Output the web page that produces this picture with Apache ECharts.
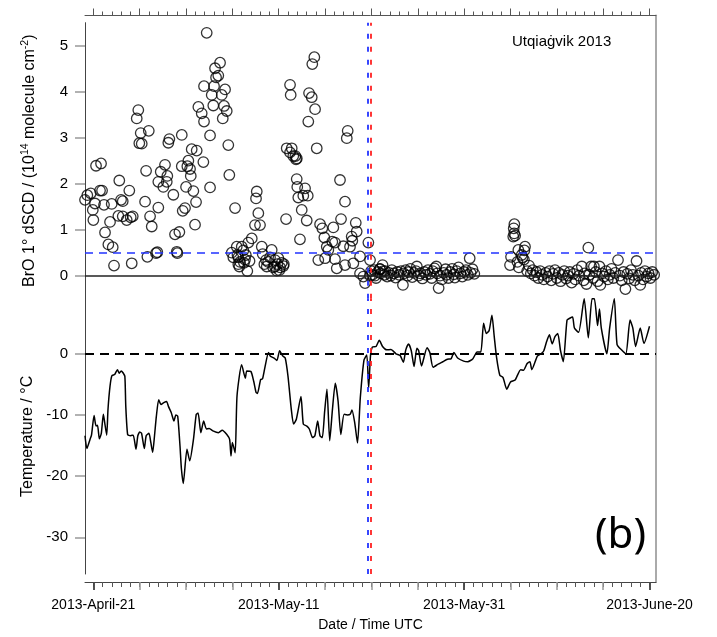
<!DOCTYPE html>
<html>
<head>
<meta charset="utf-8">
<script src="https://cdn.jsdelivr.net/npm/echarts@6/dist/echarts.min.js"></script>
<style>html,body{margin:0;padding:0;background:#fff;}#c{width:717px;height:637px;}</style>
</head>
<body>
<div id="c"></div>
<script>
// ---- data (x = days since 2013-04-21 00:00 UTC) ----
const xMin = -0.9, xMax = 60.7;
const xLabelDays = [0, 20, 40, 60];
const xLabels = ['2013-April-21', '2013-May-11', '2013-May-31', '2013-June-20'];
const brTicks = [0, 1, 2, 3, 4, 5];
const tTicks = [-30, -20, -10, 0];
const eventDays = [29.6, 29.9]; // blue, red

const brDay = [
-0.90,-0.65,-0.28,-0.06,0.00,0.18,0.29,0.83,0.72,0.94,1.15,1.26,1.62,2.09,2.23,1.80,1.98,2.80,2.99,3.17,2.70,3.17,3.60,3.88,4.03,4.25,4.14,
4.85,4.68,5.11,4.96,5.22,5.98,5.69,5.58,5.83,6.12,6.30,6.76,6.90,7.01,7.01,7.27,7.73,7.55,7.92,7.98,8.09,8.20,8.63,8.81,9.28,9.00,9.06,
9.54,9.54,9.64,9.89,10.0,10.14,10.25,10.43,10.51,10.61,10.79,10.97,11.08,11.15,11.33,11.69,11.94,11.87,11.94,12.23,12.59,12.59,12.77,
12.94,13.02,13.13,13.24,13.48,13.67,13.85,13.96,14.10,14.21,14.39,14.56,14.67,15.29,
15.47,16.01,16.72,14.93,15.10,15.64,16.18,15.83,16.36,15.64,16.61,17.63,17.55,17.80,17.44,17.98,17.09,18.17,18.27,18.63,19.24,19.06,18.71,
19.60,19.96,20.32,19.60,20.50,20.06,19.78,15.55,15.75,16.25,16.45,16.85,18.45,18.85,19.40,19.85,20.15,20.55,
21.22,21.29,20.86,21.40,21.22,21.57,21.87,21.94,22.00,22.11,20.79,21.80,21.95,
23.84,23.62,23.27,23.56,23.92,23.19,27.44,27.34,24.10,26.61,27.15,22.84,23.13,22.65,22.48,23.02,26.72,22.29,24.46,24.70,25.89,24.92,25.78,
28.31,28.41,27.87,27.94,26.07,25.18,25.35,25.00,24.27,26.07,26.97,27.69,28.77,29.67,29.85,26.26,27.15,28.05,28.77,29.13,29.31,29.85,30.39,
30.93,31.28,29.96,
30.1,30.3,30.5,30.7,30.9,31.0,31.2,31.4,31.5,31.7,31.9,32.1,32.2,32.4,32.6,32.8,33.0,33.2,33.4,33.5,33.7,33.9,34.0,34.2,34.4,34.6,34.8,34.9,
35.1,35.3,35.5,35.7,35.9,36.1,36.3,36.5,36.6,36.8,37.0,37.1,37.25,37.4,37.6,37.8,38.0,38.1,38.3,38.5,38.7,38.9,39.0,39.2,39.4,39.6,39.8,
40.0,40.2,40.4,40.6,40.7,40.9,41.1,
45.42,45.35,45.40,45.30,45.50,45.85,46.57,46.21,45.06,44.95,45.75,45.90,46.30,46.45,46.50,
46.8,47.0,47.2,47.4,47.6,47.8,48.0,48.2,48.4,48.6,48.8,49.0,49.2,49.4,49.6,49.8,50.0,50.2,50.4,50.6,50.8,51.0,51.2,51.4,51.6,51.8,52.0,
52.2,52.4,52.7,52.9,53.0,53.2,53.4,53.5,53.7,53.9,54.0,54.2,54.4,54.6,54.7,54.9,55.1,55.3,55.5,55.7,55.9,56.1,56.3,56.6,56.8,57.0,57.2,
57.4,57.6,57.8,58.0,58.2,58.4,58.6,58.8,59.0,59.1,59.3,59.5,59.7,59.9,60.1,60.3,60.5
];
const brVal = [
1.65,1.75,1.79,1.43,1.21,1.57,2.39,2.44,1.85,1.85,1.54,0.94,0.68,0.62,0.22,1.17,1.56,2.07,1.65,1.62,1.30,1.29,1.21,1.85,1.27,1.29,0.27,
3.60,3.42,3.10,2.88,2.87,3.15,2.28,1.61,0.41,1.29,1.07,0.49,0.51,1.48,2.04,2.26,2.41,1.93,2.04,2.17,2.89,2.97,1.76,0.90,0.95,0.52,0.49,
3.06,2.38,1.41,1.47,1.93,2.38,2.50,2.32,2.17,2.75,1.84,1.11,1.60,2.72,3.67,3.53,3.35,2.47,4.12,5.28,3.05,1.92,3.93,
3.70,4.12,4.51,4.31,4.35,4.63,3.93,3.42,3.69,4.05,3.58,2.84,2.19,1.47,
0.63,0.63,0.72,0.50,0.40,0.40,0.55,0.30,0.35,0.25,0.10,1.83,1.68,1.36,1.10,1.10,0.81,0.63,0.47,0.34,0.56,0.40,0.20,
0.34,0.38,0.28,0.20,0.21,0.12,0.11,0.45,0.20,0.28,0.45,0.32,0.25,0.30,0.18,0.25,0.18,0.25,
4.15,3.93,2.77,2.77,2.68,2.60,2.53,2.10,1.93,1.70,1.23,2.60,2.55,
4.75,4.60,3.97,3.88,3.62,3.35,3.15,2.99,2.77,2.08,1.61,1.90,1.74,1.74,1.43,1.20,1.23,0.79,1.12,1.03,1.05,0.83,0.74,
1.15,0.96,0.85,0.76,0.72,0.63,0.56,0.38,0.34,0.36,0.64,0.63,0.42,0.72,0.34,0.16,0.23,0.27,0.05,-0.02,-0.16,0.00,0.00,
0.14,0.10,0.10,
0.02,0.12,-0.05,0.08,0.15,0.05,0.23,0.02,0.10,-0.02,0.06,0.00,0.12,0.05,-0.04,0.08,0.02,0.10,-0.20,0.05,0.12,0.00,0.08,0.15,-0.03,0.06,0.10,0.20,
0.00,0.05,-0.06,0.08,0.02,0.12,0.04,-0.05,0.10,0.16,0.20,0.05,-0.27,0.00,-0.08,0.06,0.14,0.02,-0.05,0.08,0.15,0.03,-0.04,0.10,0.18,0.05,-0.02,
0.08,0.12,0.02,0.38,0.06,0.14,0.04,
1.12,1.03,0.92,0.85,0.87,0.56,0.63,0.45,0.41,0.23,0.30,0.18,0.40,0.35,0.55,
0.10,0.22,0.05,0.12,0.00,0.08,-0.05,0.10,0.02,-0.08,0.06,-0.02,0.10,-0.10,0.04,0.12,-0.05,0.06,-0.12,0.02,0.10,-0.06,0.00,0.08,-0.15,0.04,-0.08,
0.12,0.00,0.20,-0.10,0.05,-0.18,0.61,0.02,0.20,-0.05,0.20,0.08,-0.12,0.20,-0.20,0.05,-0.02,0.10,-0.08,0.02,0.15,-0.05,0.06,0.34,0.00,-0.10,0.08,
-0.29,0.04,-0.06,0.12,0.02,-0.10,0.32,0.00,-0.20,0.06,-0.08,0.10,-0.02,0.05,-0.05,0.08,0.02
];

const tDay = [
-0.9,-0.7,-0.36,-0.2,0.08,0.29,0.45,0.65,0.86,1.08,1.2,1.44,1.58,1.8,2.0,2.3,2.6,2.8,3.0,3.2,3.4,3.5,3.7,4.0,4.3,4.6,4.8,5.0,5.2,5.5,5.7,
6.0,6.2,6.4,6.6,6.8,7.05,7.3,7.6,7.9,8.1,8.4,8.7,8.9,9.1,9.35,9.5,9.7,10.1,10.4,10.8,11.1,11.3,11.6,11.9,12.2,12.5,12.9,13.5,13.9,14.4,
14.7,14.85,15.0,15.3,15.5,16.0,16.4,16.55,17.0,17.3,17.55,17.7,18.05,18.25,18.5,18.9,19.1,19.5,19.8,20.1,20.4,20.7,21.0,21.35,21.6,21.9,
22.4,22.65,23.0,23.3,23.65,23.9,24.2,24.45,24.7,24.95,25.2,25.5,25.8,26.1,26.4,26.7,27.05,27.4,27.7,27.9,28.2,28.5,28.8,29.2,29.5,29.7,
29.9,30.1,30.5,30.85,31.2,31.65,32.1,32.65,33.1,33.45,33.7,34.0,34.3,34.6,34.9,35.1,35.4,36.0,36.3,36.65,37.2,37.7,38.2,38.6,38.9,39.3,
39.95,40.4,40.95,41.4,41.8,42.1,42.4,42.7,43.0,43.25,43.5,43.85,44.2,44.6,45.0,45.5,46.1,46.4,46.8,47.1,47.3,47.9,48.3,48.6,48.9,49.2,
49.5,49.8,50.1,50.4,50.7,51.1,51.4,51.7,51.9,52.35,52.95,53.4,53.8,54.05,54.4,54.6,54.8,55.4,55.7,56.2,56.5,57.0,57.45,57.9,58.2,58.5,
59.0,59.4,60.0
];
const tVal = [
-13.4,-15.5,-14.0,-13.3,-10.1,-11.8,-11.7,-13.9,-13.0,-9.9,-11.0,-13.3,-9.1,-5.3,-3.6,-3.4,-2.6,-3.2,-2.8,-3.1,-3.7,-8.6,-13.2,-13.4,-13.3,
-15.6,-13.4,-12.8,-13.0,-15.5,-13.4,-13.0,-14.5,-16.1,-13.4,-10.2,-7.5,-8.3,-8.0,-7.8,-8.6,-9.6,-11.0,-10.0,-10.2,-15.1,-18.8,-21.2,-15.6,
-17.5,-14.0,-9.9,-9.7,-12.9,-11.0,-12.3,-12.2,-12.6,-12.9,-12.5,-13.2,-14.0,-16.7,-14.5,-16.2,-6.9,-1.8,-4.0,-2.8,-2.9,-4.5,-6.3,-6.5,-4.2,
-4.1,-2.3,0.2,-0.4,-0.7,-1.1,0.5,-0.3,-0.7,-3.7,-9.0,-11.5,-10.7,-7.0,-11.5,-11.8,-12.3,-13.7,-13.4,-11.0,-13.4,-13.7,-9.5,-5.8,-14.2,-9.0,
-4.8,-7.7,-13.2,-9.9,-10.0,-9.9,-9.2,-11.3,-14.6,-7.2,-1.0,-0.2,-5.6,-0.3,1.1,1.2,2.2,1.2,0.65,0.7,0.0,-0.3,-1.4,0.6,1.6,0.5,-2.1,0.9,0.5,
-2.0,1.0,0.2,-2.2,-1.7,-1.3,-0.9,-0.8,0.2,-0.7,-1.2,-1.3,-0.8,0.3,0.3,5.0,3.3,3.8,6.3,2.8,-0.6,-3.5,-3.9,-5.8,-4.6,-4.3,-2.6,-2.7,-1.6,-1.3,
-2.6,-0.4,0.0,0.5,2.0,3.1,1.6,2.8,3.3,0.5,-1.3,5.5,5.8,6.0,4.2,3.5,9.0,2.6,9.0,9.0,4.6,7.3,4.2,0.0,4.2,9.0,1.5,0.6,0.0,5.5,4.2,1.2,4.2,1.7,4.5
];

// ---- build ----
const FONT = 'Liberation Sans, Arial, sans-serif';
const brData = brDay.map((d, i) => [d, brVal[i]]);
const tData = tDay.map((d, i) => [d, tVal[i]]);
const daily = [], five = [];
for (let d = 0; d <= 60; d++) { daily.push(d); if (d % 5 === 0) five.push(d); }

const hiddenX = (g) => ({gridIndex: g, type: 'value', min: xMin, max: xMax, show: false, axisLine: {onZero: false}});
const vLines = [
  {xAxis: eventDays[0], lineStyle: {color: '#2233ff', type: [5, 8], width: 1.8}},
  {xAxis: eventDays[1], lineStyle: {color: '#ff2222', type: [5, 8], width: 1.8}}
];
const bottomX = (extra) => Object.assign({gridIndex: 2, type: 'value', position: 'bottom', min: xMin, max: xMax,
  splitLine: {show: false}, axisLabel: {show: false}}, extra);

const option = {
  animation: false,
  backgroundColor: '#fff',
  textStyle: {fontFamily: FONT},
  grid: [
    {left: 85, top: 22.7, width: 571, height: 276, outerBoundsMode: 'none'},
    {left: 85, top: 298.7, width: 571, height: 275.3, outerBoundsMode: 'none'},
    {left: 85, top: 15.5, width: 571, height: 566.5, outerBoundsMode: 'none'}
  ],
  xAxis: [
    hiddenX(0), hiddenX(1),
    bottomX({axisLine: {show: true, onZero: false, lineStyle: {color: '#444', width: 1}},
      axisTick: {show: true, customValues: daily, length: 5, lineStyle: {color: '#555', width: 1}}}),
    bottomX({axisLine: {show: false, onZero: false},
      axisTick: {show: true, customValues: five, length: 8, lineStyle: {color: '#999', width: 1.5}}}),
    bottomX({axisLine: {show: false, onZero: false},
      axisTick: {show: true, customValues: xLabelDays, length: 8, lineStyle: {color: '#333', width: 1.5}},
      axisLabel: {show: true, customValues: xLabelDays, margin: 16, fontSize: 14, color: '#000', fontFamily: FONT,
        formatter: v => xLabels[xLabelDays.indexOf(Math.round(v))] || ''},
      name: 'Date / Time UTC', nameLocation: 'middle', nameGap: 36,
      nameTextStyle: {fontSize: 14, color: '#000', fontFamily: FONT}}),
    bottomX({position: 'top', axisLine: {show: true, onZero: false, lineStyle: {color: '#555', width: 1}},
      axisTick: {show: true, customValues: daily, length: 4, lineStyle: {color: '#555', width: 1}}}),
    bottomX({position: 'top', axisLine: {show: false, onZero: false},
      axisTick: {show: true, customValues: five, length: 7, lineStyle: {color: '#555', width: 1}}})
  ],
  yAxis: [
    {gridIndex: 0, type: 'value', min: -0.5, max: 5.5,
      axisLine: {show: true, onZero: false, lineStyle: {color: '#444', width: 1}},
      axisTick: {show: true, customValues: brTicks, length: 10, lineStyle: {color: '#999', width: 1.5}},
      axisLabel: {customValues: brTicks, fontSize: 15, color: '#000', margin: 17, fontFamily: FONT},
      splitLine: {show: false},
      name: '{a|BrO 1° dSCD / (10}{s|14}{a| molecule cm}{s|-2}{a|)}',
      nameLocation: 'middle', nameGap: 45, nameRotate: 90,
      nameTextStyle: {rich: {
        a: {fontSize: 16, color: '#000', fontFamily: FONT, lineHeight: 20},
        s: {fontSize: 10.5, color: '#000', fontFamily: FONT, lineHeight: 12, verticalAlign: 'top'}
      }}},
    {gridIndex: 1, type: 'value', min: -36, max: 9,
      axisLine: {show: true, onZero: false, lineStyle: {color: '#444', width: 1}},
      axisTick: {show: true, customValues: tTicks, length: 10, lineStyle: {color: '#999', width: 1.5}},
      axisLabel: {customValues: tTicks, fontSize: 15, color: '#000', margin: 17, fontFamily: FONT},
      splitLine: {show: false},
      name: 'Temperature / °C', nameLocation: 'middle', nameGap: 48, nameRotate: 90,
      nameTextStyle: {fontSize: 16, color: '#000', fontFamily: FONT}},
    {gridIndex: 2, type: 'value', position: 'right', min: 0, max: 1,
      axisLine: {show: true, onZero: false, lineStyle: {color: '#aaa', width: 2}},
      axisTick: {show: false}, axisLabel: {show: false}, splitLine: {show: false}}
  ],
  series: [
    {type: 'scatter', xAxisIndex: 0, yAxisIndex: 0, data: brData,
      symbol: 'circle', symbolSize: 10.5,
      itemStyle: {color: 'rgba(0,0,0,0)', borderColor: '#000', borderWidth: 1.3},
      markLine: {silent: true, symbol: 'none', label: {show: false}, animation: false,
        data: [
          {yAxis: 0.5, lineStyle: {color: '#2233ff', type: [8, 6], width: 1.5}},
          {yAxis: 0, lineStyle: {color: '#222', type: 'solid', width: 1.5}}
        ].concat(vLines)}},
    {type: 'line', xAxisIndex: 1, yAxisIndex: 1, data: tData, showSymbol: false,
      lineStyle: {color: '#000', width: 1.5}, smooth: 0.2,
      markLine: {silent: true, symbol: 'none', label: {show: false}, animation: false,
        data: [
          {yAxis: 0, lineStyle: {color: '#000', type: [9, 6], width: 2}}
        ].concat(vLines)}}
  ],
  graphic: [
    {type: 'text', left: 512, top: 34, style: {text: 'Utqiaġvik 2013', fontSize: 15, fill: '#000', fontFamily: FONT}},
    {type: 'text', left: 595, top: 515, style: {text: '(b)', fontSize: 42, fill: '#000', fontFamily: 'Noto Sans, DejaVu Sans, sans-serif'}}
  ]
};

const chart = echarts.init(document.getElementById('c'), null, {renderer: 'canvas'});
chart.setOption(option);
</script>
</body>
</html>
